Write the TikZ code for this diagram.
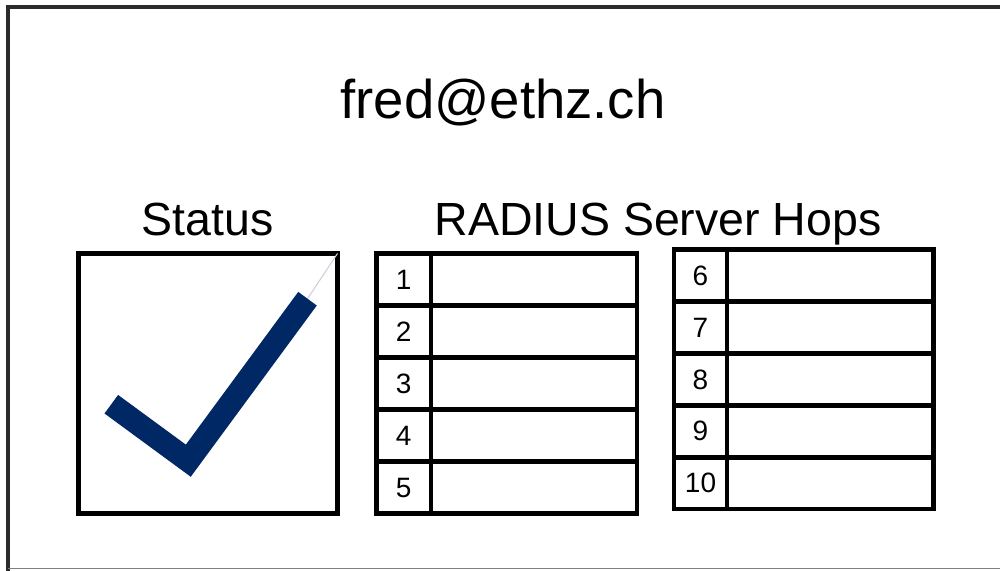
\documentclass[tikz,border=0pt]{standalone}
\usepackage{fontspec}
\setmainfont{Liberation Sans}
\definecolor{framegray}{HTML}{2B2B2B}
\definecolor{checknavy}{RGB}{0,40,100}
\definecolor{checkghost}{RGB}{200,206,222}
\begin{document}
\begin{tikzpicture}[x=1pt,y=-1pt,
  cell/.style={draw=black, line width=4.5pt, minimum height=52pt, inner sep=0pt, outer sep=0pt, anchor=north west},
  numcell/.style={cell, font=\fontsize{28pt}{30pt}\selectfont},
  title/.style={inner sep=0pt, anchor=base, font=\fontsize{46.5pt}{50pt}\selectfont},
]
\useasboundingbox (0,0) rectangle (1000,570);
\fill[white] (0,0) rectangle (1000,570);
% outer frame
\draw[framegray, line width=4.5pt] (1003,7) -- (8,7) -- (8,572);
\draw[gray, line width=1.2pt] (8,568.5) -- (1003,568.5);
% titles
\node[title, font=\fontsize{54.5pt}{60pt}\selectfont] (email) at (503,118) {fred@ethz.ch};
\node[title] (status) at (207.5,235) {Status};
\node[title] (hops) at (658,235) {RADIUS Server Hops};
% status box
\node[cell, minimum width=259pt, minimum height=260pt] (statusbox) at (78.5,253.5) {};
\draw[checkghost, line width=1pt] (307.5,298.7) -- (statusbox.north east);
\draw[checknavy, line width=23pt, miter limit=10] (111.3,404.2) -- (188.3,460.7) -- (307.5,298.7);
% table 1
\foreach \i in {1,...,5}{
  \node[numcell, minimum width=54.5pt] (n\i) at (376.5,{253.5+52*(\i-1)}) {\i};
  \node[cell, minimum width=206pt] (v\i) at (431,{253.5+52*(\i-1)}) {};
}
% table 2
\foreach \i in {6,...,10}{
  \node[numcell, minimum width=53pt, minimum height=51.9pt] (n\i) at (674,{249.7+51.9*(\i-6)}) {\i};
  \node[cell, minimum width=206.7pt, minimum height=51.9pt] (v\i) at (727,{249.7+51.9*(\i-6)}) {};
}
\end{tikzpicture}
\end{document}
